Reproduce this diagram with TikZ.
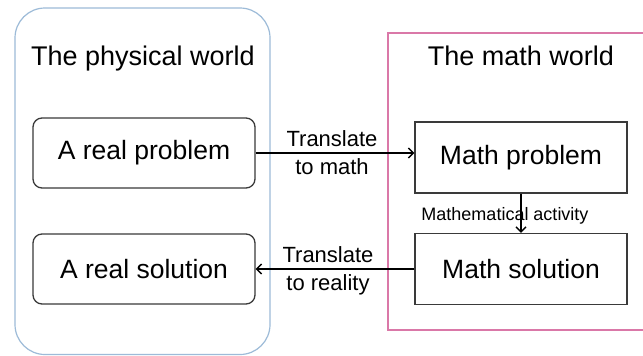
\documentclass[tikz,border=0pt]{standalone}
\usepackage{fontspec}
\setmainfont{Liberation Sans}
\usetikzlibrary{arrows.meta}
\definecolor{worldblue}{HTML}{9DBBD8}
\definecolor{worldpink}{HTML}{DA78A8}
\definecolor{boxgray}{HTML}{3A3A3A}
\tikzset{
  px/.style={x=1pt,y=-1pt},
  realbox/.style={draw=boxgray,line width=1.3pt,rounded corners=9pt,minimum width=222pt,minimum height=70pt,inner sep=0pt,font=\fontsize{26.5}{30}\selectfont},
  mathbox/.style={draw=boxgray,line width=1.3pt,minimum width=212pt,minimum height=71pt,inner sep=0pt,font=\fontsize{26.5}{30}\selectfont},
  title/.style={anchor=base,inner sep=0pt,font=\fontsize{27}{30}\selectfont},
  conn/.style={line width=1.4pt,-{Straight Barb[length=5pt,width=10pt,line width=1.4pt]}},
  tlabel/.style={align=center,inner sep=0pt,font=\fontsize{22}{28}\selectfont},
  actlabel/.style={inner sep=0pt,font=\fontsize{18}{20}\selectfont}
}
\begin{document}
\begin{tikzpicture}[px]
\useasboundingbox (0,0) rectangle (643,356);
\fill[white] (0,0) rectangle (643,356);
\begin{scope}
\clip (0,0) rectangle (643,356);
\draw[worldblue,line width=1.2pt,rounded corners=30pt] (15,8) rectangle (270,354.5);
\draw[worldpink,line width=1.5pt] (388,33) rectangle (680,330);
\end{scope}
\node[title] (tp) at (143,65) {The physical world};
\node[title] (tm) at (521,65) {The math world};
\node[realbox] (rp) at (144,153) {A real problem};
\node[realbox] (rs) at (144,269) {A real solution};
\node[mathbox] (mp) at (521,157.5) {Math problem};
\node[mathbox] (ms) at (521,269) {Math solution};
\draw[conn] (rp.east) -- (rp.east -| mp.west);
\draw[conn] (ms.west) -- (ms.west -| rs.east);
\node[tlabel] (t1) at (332,153) {Translate\\to math};
\node[tlabel] (t2) at (328,271) {Translate\\to reality};
\node[actlabel] (act) at (505,216) {Mathematical activity};
\draw[conn] (mp.south) -- (ms.north);
\end{tikzpicture}
\end{document}
